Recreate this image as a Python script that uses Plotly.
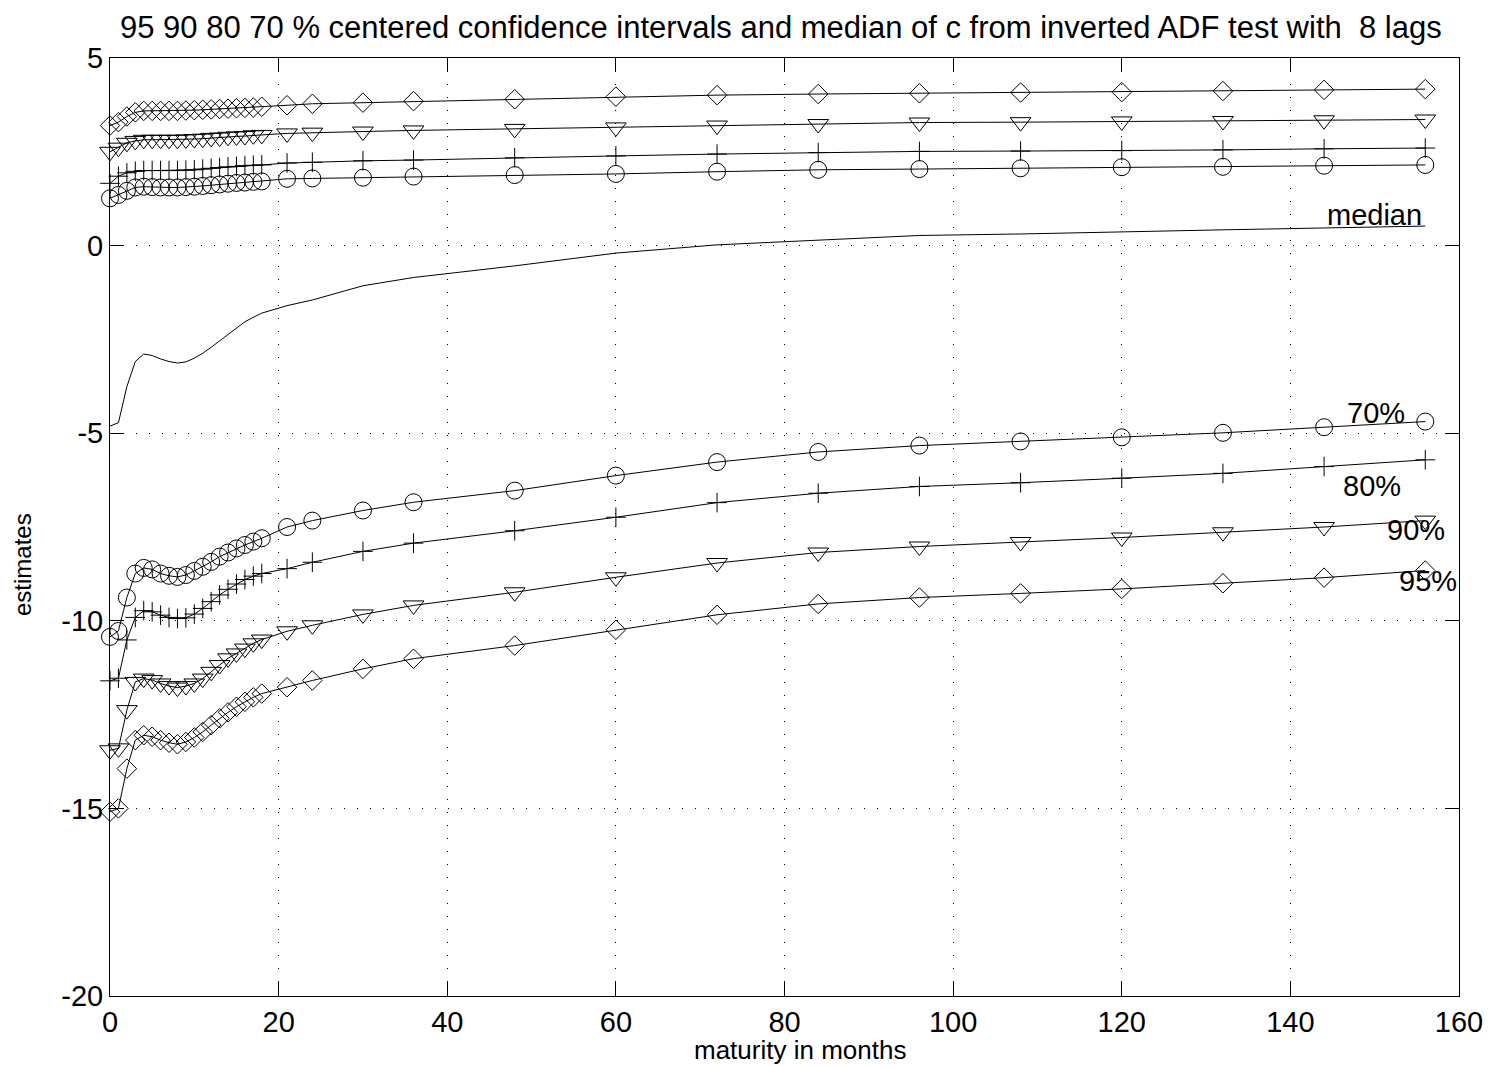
import plotly.graph_objects as go

months = list(range(0, 19)) + [21, 24, 30, 36, 48, 60, 72, 84, 96, 108, 120, 132, 144, 156]

median = [-4.81, -4.72, -3.76, -3.09, -2.89, -2.93, -3.02, -3.09, -3.13, -3.10, -3.00, -2.87, -2.71, -2.54,
          -2.36, -2.19, -2.03, -1.91, -1.80, -1.60, -1.45, -1.07, -0.85, -0.54, -0.20, 0.02, 0.15, 0.27,
          0.31, 0.37, 0.42, 0.47, 0.52]

up95 = [3.20, 3.29, 3.44, 3.55, 3.59, 3.59, 3.59, 3.59, 3.59, 3.60, 3.61, 3.62, 3.63, 3.64, 3.65, 3.66,
        3.67, 3.68, 3.70, 3.74, 3.78, 3.81, 3.85, 3.90, 3.97, 4.01, 4.04, 4.06, 4.08, 4.09, 4.12, 4.15, 4.17]
up90 = [2.50, 2.61, 2.74, 2.79, 2.82, 2.82, 2.82, 2.82, 2.82, 2.83, 2.84, 2.85, 2.87, 2.88, 2.90, 2.91,
        2.92, 2.94, 2.95, 2.99, 3.01, 3.04, 3.07, 3.11, 3.15, 3.20, 3.24, 3.28, 3.29, 3.31, 3.32, 3.34, 3.36]
up80 = [1.66, 1.85, 1.94, 1.98, 2.00, 2.00, 2.00, 2.00, 2.00, 2.01, 2.02, 2.04, 2.06, 2.08, 2.10, 2.11,
        2.13, 2.14, 2.15, 2.20, 2.22, 2.26, 2.28, 2.34, 2.39, 2.44, 2.48, 2.51, 2.52, 2.53, 2.55, 2.58, 2.60]
up70 = [1.26, 1.35, 1.46, 1.55, 1.57, 1.56, 1.55, 1.55, 1.55, 1.56, 1.57, 1.59, 1.61, 1.63, 1.65, 1.67,
        1.68, 1.70, 1.71, 1.78, 1.79, 1.81, 1.84, 1.88, 1.91, 1.97, 2.02, 2.04, 2.06, 2.09, 2.10, 2.13, 2.15]

lo70 = [-10.43, -10.27, -9.38, -8.74, -8.59, -8.63, -8.74, -8.80, -8.83, -8.78, -8.67, -8.56, -8.43, -8.29,
        -8.18, -8.07, -7.98, -7.89, -7.80, -7.50, -7.33, -7.06, -6.84, -6.53, -6.13, -5.77, -5.50, -5.33,
        -5.22, -5.11, -4.99, -4.84, -4.69]
lo80 = [-11.60, -11.53, -10.51, -9.91, -9.73, -9.76, -9.85, -9.91, -9.94, -9.92, -9.82, -9.67, -9.49, -9.31,
        -9.16, -9.02, -8.90, -8.81, -8.74, -8.61, -8.44, -8.15, -7.93, -7.60, -7.24, -6.85, -6.60, -6.42,
        -6.32, -6.20, -6.07, -5.89, -5.71]
lo90 = [-13.45, -13.40, -12.38, -11.63, -11.54, -11.58, -11.67, -11.74, -11.78, -11.74, -11.67, -11.54,
        -11.36, -11.18, -11.00, -10.87, -10.74, -10.60, -10.50, -10.28, -10.12, -9.83, -9.59, -9.24, -8.84,
        -8.46, -8.18, -8.02, -7.90, -7.78, -7.64, -7.50, -7.33]
lo95 = [-15.09, -15.00, -13.94, -13.18, -13.05, -13.09, -13.18, -13.25, -13.29, -13.23, -13.11, -12.96,
        -12.78, -12.60, -12.44, -12.29, -12.16, -12.04, -11.94, -11.77, -11.59, -11.28, -11.01, -10.66,
        -10.24, -9.84, -9.55, -9.38, -9.27, -9.15, -9.00, -8.85, -8.66]

x_ticks = [0, 20, 40, 60, 80, 100, 120, 140, 160]
y_ticks = [-20, -15, -10, -5, 0, 5]

labels = ["median", "70%", "80%", "90%", "95%"]
label_x = [144.1, 146.5, 146.0, 151.2, 152.7]
label_y = [0.82, -4.47, -6.40, -7.58, -8.93]

FONT = "Liberation Sans, Arial, Helvetica, sans-serif"

# page body has an 8px margin; the plot area is placed at x 110..1459, y 58..996 of the page
W, H = 1490, 1059
L, R, T, B = 102, 39, 50, 71
PW, PH = W - L - R, H - T - B

series = [
    (up95, "diamond-open", 15), (up90, "triangle-down-open", 18), (up80, "cross-thin-open", 14),
    (up70, "circle-open", 17),
    (lo70, "circle-open", 17), (lo80, "cross-thin-open", 14), (lo90, "triangle-down-open", 18),
    (lo95, "diamond-open", 15),
]

fig = go.Figure()
for ys, sym, sz in series:
    fig.add_trace(go.Scatter(
        x=months, y=ys, mode="lines+markers",
        line=dict(color="black", width=1),
        marker=dict(symbol=sym, size=sz, color="black", line=dict(color="black", width=1)),
        cliponaxis=False, showlegend=False))

fig.add_trace(go.Scatter(x=months, y=median, mode="lines",
                         line=dict(color="black", width=1), showlegend=False))

for t, lx, ly in zip(labels, label_x, label_y):
    fig.add_annotation(x=lx, y=ly, xref="x", yref="y", text=t, showarrow=False,
                       xanchor="left", yanchor="middle", font=dict(size=29, color="black", family=FONT))

fig.add_annotation(x=(800 - 110) / PW, y=(996 - 1050) / PH, xref="paper", yref="paper",
                   text="maturity in months", showarrow=False, xanchor="center", yanchor="middle",
                   font=dict(size=26, color="black", family=FONT))
fig.add_annotation(x=(22 - 110) / PW, y=(996 - 565) / PH, xref="paper", yref="paper",
                   text="estimates", showarrow=False, textangle=-90, xanchor="center", yanchor="middle",
                   font=dict(size=24, color="black", family=FONT))

fig.update_layout(
    width=W, height=H,
    margin=dict(l=L, r=R, t=T, b=B),
    paper_bgcolor="white", plot_bgcolor="white",
    font=dict(family=FONT, color="black"),
    title=dict(text="95 90 80 70 % centered confidence intervals and median of c from inverted ADF test with  8 lags",
               x=(120 - 8) / W, xanchor="left", xref="container",
               y=1 - (27 - 8) / H, yanchor="middle", yref="container",
               font=dict(size=31, color="black", family=FONT)),
)
axis_common = dict(showline=True, linecolor="black", linewidth=1, mirror="ticks",
                   ticks="inside", ticklen=14, tickcolor="black", tickwidth=1,
                   showgrid=True, gridcolor="black", gridwidth=1, griddash="1px,12px",
                   zeroline=False, tickfont=dict(size=29, color="black", family=FONT))
fig.update_xaxes(range=[0, 160], tickvals=x_ticks, ticktext=[str(v) for v in x_ticks], **axis_common)
fig.update_yaxes(range=[-20, 5], tickvals=y_ticks, ticktext=[str(v) for v in y_ticks], **axis_common)

fig.write_html("out.html")
